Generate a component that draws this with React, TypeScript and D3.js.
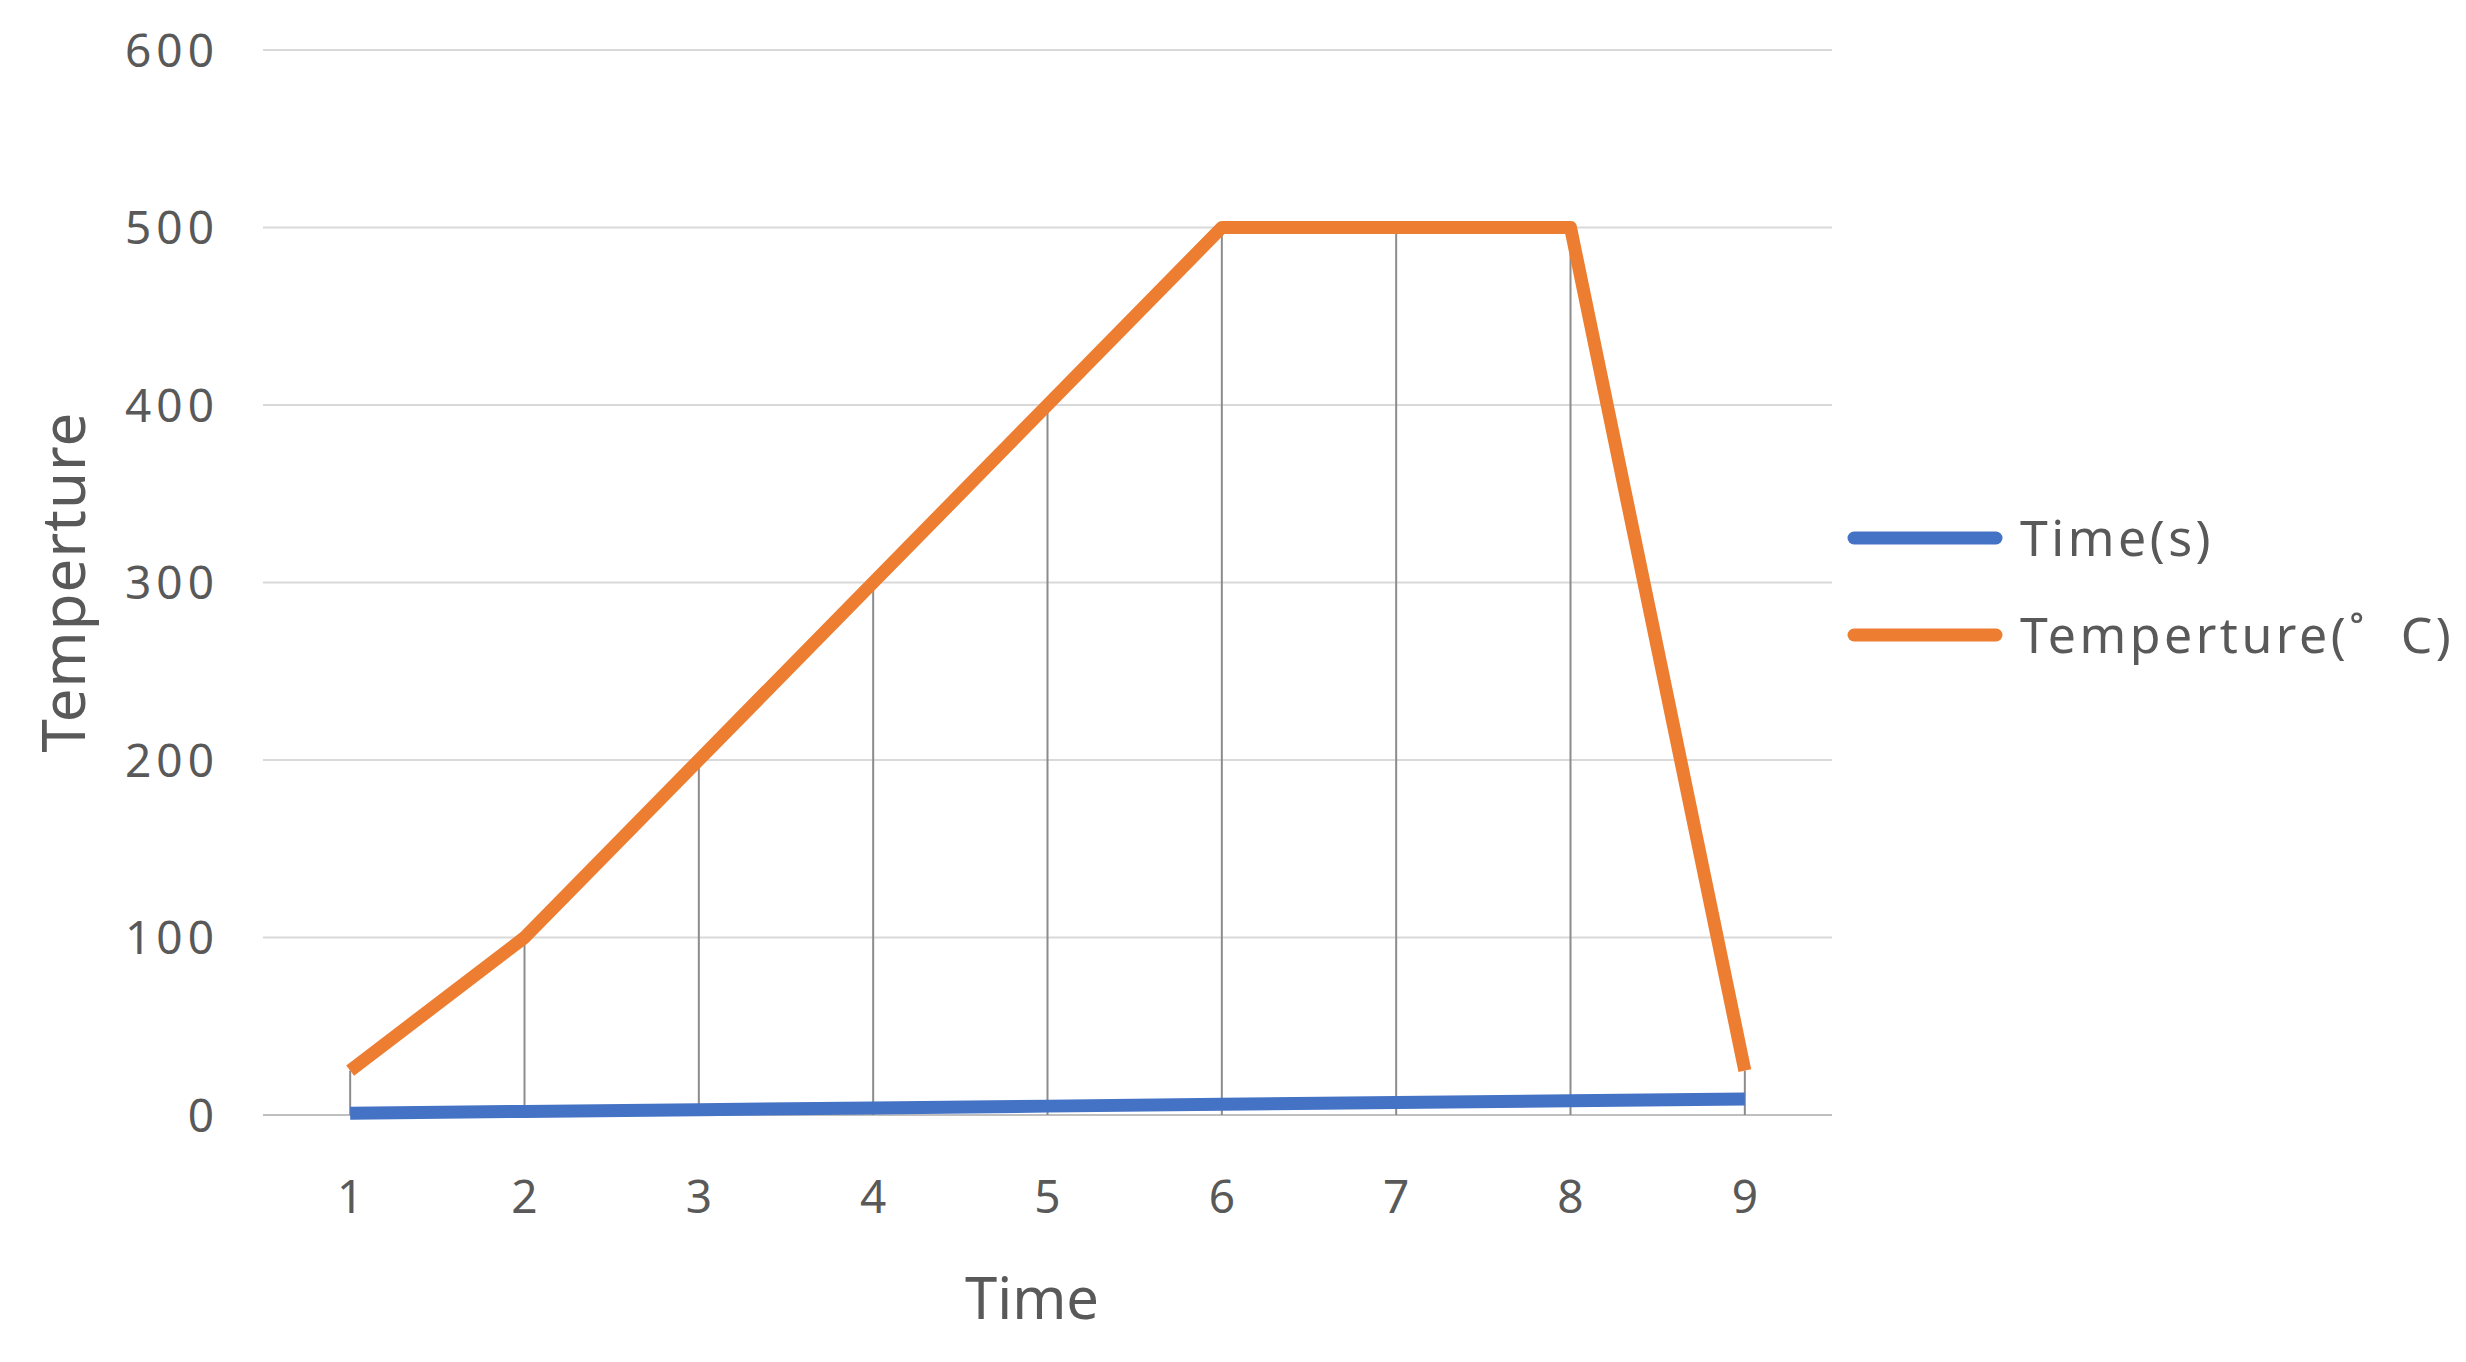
import React from "react";
import * as d3 from "d3";

const categories = [1, 2, 3, 4, 5, 6, 7, 8, 9];
const timeValues = [1, 2, 3, 4, 5, 6, 7, 8, 9];
const tempValues = [25, 100, 200, 300, 400, 500, 500, 500, 25];
const yTicks = [0, 100, 200, 300, 400, 500, 600];
const seriesNames = ["Time(s)", "Temperture(\u02DA  C)"];
const seriesColors = ["#4472C4", "#ED7D31"];

const W = 2466;
const H = 1362;
const left = 263;
const right = 1832;
const top = 50;
const bottom = 1115;
const FONT = "'Noto Sans', 'Open Sans', sans-serif";
const TXT = "#595959";

export default function App() {
  const x = d3.scalePoint<number>().domain(categories).range([left, right]).padding(0.5);
  const y = d3.scaleLinear().domain([0, 600]).range([bottom, top]);
  const line = d3
    .line<number>()
    .x((_, i) => x(categories[i]) as number)
    .y((d) => y(d));
  const series = [timeValues, tempValues];

  return (
    <svg
      width={W}
      height={H}
      style={{ position: "absolute", left: 0, top: 0, background: "#fff" }}
      fontFamily={FONT}
    >
      {yTicks.map((t) => (
        <g key={t}>
          {t !== 0 && (
            <line x1={left} x2={right} y1={y(t)} y2={y(t)} stroke="#D9D9D9" strokeWidth={2} />
          )}
          <text x={219} y={y(t)} dy="0.36em" textAnchor="end" fontSize={46} fill={TXT} letterSpacing={5}>
            {t}
          </text>
        </g>
      ))}
      <line x1={left} x2={right} y1={y(0)} y2={y(0)} stroke="#BFBFBF" strokeWidth={2} />
      {categories.map((c, i) => (
        <g key={c}>
          <line
            x1={x(c)}
            x2={x(c)}
            y1={y(Math.max(timeValues[i], tempValues[i]))}
            y2={y(0)}
            stroke="#8C8C8C"
            strokeWidth={2}
          />
          <text x={x(c)} y={1196} dy="0.36em" textAnchor="middle" fontSize={46} fill={TXT}>
            {c}
          </text>
        </g>
      ))}
      {series.map((s, k) => (
        <path
          key={k}
          d={line(s) || ""}
          fill="none"
          stroke={seriesColors[k]}
          strokeWidth={13}
          strokeLinejoin="round"
        />
      ))}
      <text x={1032} y={1298} dy="0.36em" textAnchor="middle" fontSize={58} fill={TXT}>
        Time
      </text>
      <text
        transform={`translate(63, 582) rotate(-90)`}
        dy="0.36em"
        textAnchor="middle"
        fontSize={60}
        fill={TXT}
        letterSpacing={1}
      >
        Temperture
      </text>
      {seriesNames.map((n, k) => (
        <g key={n} transform={`translate(0, ${538 + k * 97})`}>
          <line x1={1854} x2={1996} y1={0} y2={0} stroke={seriesColors[k]} strokeWidth={13} strokeLinecap="round" />
          <text x={2020} y={0} dy="0.36em" fontSize={50} fill={TXT} letterSpacing={3.5} style={{ whiteSpace: "pre" }}>
            {n}
          </text>
        </g>
      ))}
    </svg>
  );
}
